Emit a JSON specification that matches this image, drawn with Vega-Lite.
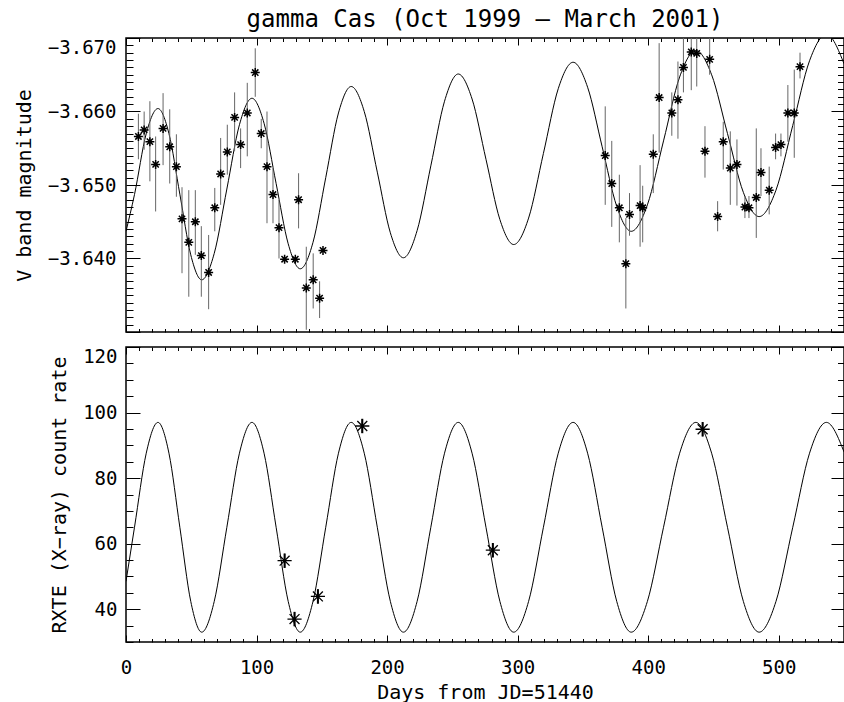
{
  "$schema": "https://vega.github.io/schema/vega-lite/v6.json",
  "padding": {"left": 13, "top": 7, "right": 0, "bottom": 0},
  "background": "white",
  "spacing": 15,
  "bounds": "flush",
  "title": {"text": "gamma Cas (Oct 1999 – March 2001)", "fontSize": 24, "fontWeight": "normal", "font": "DejaVu Sans Mono", "color": "black", "anchor": "middle", "frame": "group", "offset": 5},
  "config": {
    "view": {"stroke": "black", "strokeWidth": 1.5},
    "axis": {"labelFont": "DejaVu Sans Mono", "titleFont": "DejaVu Sans Mono", "labelFontSize": 19, "titleFontSize": 20, "labelColor": "black", "titleColor": "black", "titleFontWeight": "normal", "tickColor": "black", "tickWidth": 1, "grid": false, "domain": false}
  },
  "datasets": {
    "curve": [
      {"day": 0, "rate": 48.5, "mag": -3.6437},
      {"day": 6.5, "rate": 65, "mag": -3.6487},
      {"day": 15.5, "rate": 87.6, "mag": -3.657},
      {"day": 24.5, "rate": 97, "mag": -3.6604},
      {"day": 32.9, "rate": 87.6, "mag": -3.657},
      {"day": 41.25, "rate": 65, "mag": -3.64875},
      {"day": 49.6, "rate": 42.4, "mag": -3.6405},
      {"day": 58, "rate": 33, "mag": -3.6371},
      {"day": 67.6, "rate": 42.4, "mag": -3.6407},
      {"day": 77.25, "rate": 65, "mag": -3.64945},
      {"day": 86.9, "rate": 87.6, "mag": -3.6582},
      {"day": 96.5, "rate": 97, "mag": -3.6618},
      {"day": 105.75, "rate": 87.6, "mag": -3.6584},
      {"day": 115, "rate": 65, "mag": -3.6502},
      {"day": 124.25, "rate": 42.4, "mag": -3.642},
      {"day": 133.5, "rate": 33, "mag": -3.6386},
      {"day": 143.25, "rate": 42.4, "mag": -3.6422},
      {"day": 153, "rate": 65, "mag": -3.651},
      {"day": 162.75, "rate": 87.6, "mag": -3.6598},
      {"day": 172.5, "rate": 97, "mag": -3.6634},
      {"day": 182.5, "rate": 87.6, "mag": -3.66},
      {"day": 192.5, "rate": 65, "mag": -3.65175},
      {"day": 202.5, "rate": 42.4, "mag": -3.6435},
      {"day": 212.5, "rate": 33, "mag": -3.6401},
      {"day": 223, "rate": 42.4, "mag": -3.6438},
      {"day": 233.5, "rate": 65, "mag": -3.6526},
      {"day": 244, "rate": 87.6, "mag": -3.6614},
      {"day": 254.5, "rate": 97, "mag": -3.6651},
      {"day": 265.1, "rate": 87.6, "mag": -3.6617},
      {"day": 275.75, "rate": 65, "mag": -3.6535},
      {"day": 286.4, "rate": 42.4, "mag": -3.6453},
      {"day": 297, "rate": 33, "mag": -3.6419},
      {"day": 308.4, "rate": 42.4, "mag": -3.6455},
      {"day": 319.75, "rate": 65, "mag": -3.6543},
      {"day": 331.1, "rate": 87.6, "mag": -3.6631},
      {"day": 342.5, "rate": 97, "mag": -3.6667},
      {"day": 353.6, "rate": 87.6, "mag": -3.6633},
      {"day": 364.75, "rate": 65, "mag": -3.6552},
      {"day": 375.9, "rate": 42.4, "mag": -3.6471},
      {"day": 387, "rate": 33, "mag": -3.6437},
      {"day": 399.4, "rate": 42.4, "mag": -3.6473},
      {"day": 411.75, "rate": 65, "mag": -3.656},
      {"day": 424.1, "rate": 87.6, "mag": -3.6647},
      {"day": 436.5, "rate": 97, "mag": -3.6683},
      {"day": 448.6, "rate": 87.6, "mag": -3.665},
      {"day": 460.75, "rate": 65, "mag": -3.657},
      {"day": 472.9, "rate": 42.4, "mag": -3.649},
      {"day": 485, "rate": 33, "mag": -3.6457},
      {"day": 497.9, "rate": 42.4, "mag": -3.6493},
      {"day": 510.75, "rate": 65, "mag": -3.6581},
      {"day": 523.6, "rate": 87.6, "mag": -3.6669},
      {"day": 536.5, "rate": 97, "mag": -3.6705},
      {"day": 550, "rate": 88, "mag": -3.6665}
    ],
    "vobs": [
      {"day": 9.5, "mag": -3.6566, "lo": -3.6597, "hi": -3.6535},
      {"day": 13.9, "mag": -3.6575, "lo": -3.66, "hi": -3.6548},
      {"day": 18.3, "mag": -3.6559, "lo": -3.6614, "hi": -3.6505},
      {"day": 22.7, "mag": -3.6528, "lo": -3.6566, "hi": -3.6464},
      {"day": 28.4, "mag": -3.6577, "lo": -3.6625, "hi": -3.6527},
      {"day": 33.5, "mag": -3.6552, "lo": -3.6603, "hi": -3.6502},
      {"day": 38.6, "mag": -3.6525, "lo": -3.6569, "hi": -3.6484},
      {"day": 42.9, "mag": -3.6454, "lo": -3.6497, "hi": -3.638},
      {"day": 48.1, "mag": -3.6422, "lo": -3.6493, "hi": -3.6348},
      {"day": 53.1, "mag": -3.645, "lo": -3.6493, "hi": -3.6405},
      {"day": 57.7, "mag": -3.6404, "lo": -3.6444, "hi": -3.6348},
      {"day": 63.3, "mag": -3.6381, "lo": -3.6432, "hi": -3.6331},
      {"day": 68.0, "mag": -3.6469, "lo": -3.6496, "hi": -3.6437},
      {"day": 72.5, "mag": -3.6515, "lo": -3.6564, "hi": -3.6473},
      {"day": 77.6, "mag": -3.6545, "lo": -3.6582, "hi": -3.6514},
      {"day": 83.2, "mag": -3.6592, "lo": -3.6626, "hi": -3.6546},
      {"day": 87.8, "mag": -3.6555, "lo": -3.6577, "hi": -3.6523},
      {"day": 92.9, "mag": -3.6598, "lo": -3.6639, "hi": -3.6539},
      {"day": 99.0, "mag": -3.6653, "lo": -3.6686, "hi": -3.662},
      {"day": 103.6, "mag": -3.657, "lo": -3.659, "hi": -3.655},
      {"day": 108.0, "mag": -3.6525, "lo": -3.66, "hi": -3.6448},
      {"day": 112.6, "mag": -3.6487, "lo": -3.6523, "hi": -3.6448},
      {"day": 117.2, "mag": -3.6442, "lo": -3.648, "hi": -3.64},
      {"day": 121.5, "mag": -3.6399},
      {"day": 129.7, "mag": -3.6399},
      {"day": 132.2, "mag": -3.648, "lo": -3.6516, "hi": -3.6441},
      {"day": 138.1, "mag": -3.636, "lo": -3.6416, "hi": -3.6303},
      {"day": 143.4, "mag": -3.6371, "lo": -3.6407, "hi": -3.6332},
      {"day": 148.3, "mag": -3.6346, "lo": -3.6369, "hi": -3.6319},
      {"day": 150.9, "mag": -3.6411},
      {"day": 367.1, "mag": -3.654, "lo": -3.6607, "hi": -3.6473},
      {"day": 372.1, "mag": -3.6502, "lo": -3.656, "hi": -3.6443},
      {"day": 377.9, "mag": -3.6469, "lo": -3.6514, "hi": -3.6422},
      {"day": 382.9, "mag": -3.6393, "lo": -3.6455, "hi": -3.6332},
      {"day": 385.7, "mag": -3.646, "lo": -3.6489, "hi": -3.6431},
      {"day": 393.8, "mag": -3.6472, "lo": -3.6527, "hi": -3.6416},
      {"day": 395.8, "mag": -3.6469, "lo": -3.6499, "hi": -3.6422},
      {"day": 403.9, "mag": -3.6542, "lo": -3.6569, "hi": -3.6489},
      {"day": 408.4, "mag": -3.6619, "lo": -3.6693, "hi": -3.6544},
      {"day": 418.1, "mag": -3.6598, "lo": -3.6626, "hi": -3.6567},
      {"day": 422.8, "mag": -3.6616, "lo": -3.6668, "hi": -3.6563},
      {"day": 427.0, "mag": -3.666, "lo": -3.67, "hi": -3.6626},
      {"day": 433.0, "mag": -3.6681, "lo": -3.67, "hi": -3.6629},
      {"day": 437.2, "mag": -3.6679, "lo": -3.67, "hi": -3.6634},
      {"day": 443.5, "mag": -3.6546, "lo": -3.658, "hi": -3.651},
      {"day": 447.1, "mag": -3.6671, "lo": -3.67, "hi": -3.665},
      {"day": 453.2, "mag": -3.6457, "lo": -3.6478, "hi": -3.6437},
      {"day": 457.5, "mag": -3.6559, "lo": -3.6586, "hi": -3.6521},
      {"day": 462.9, "mag": -3.6523, "lo": -3.6573, "hi": -3.6473},
      {"day": 468.0, "mag": -3.6528, "lo": -3.6562, "hi": -3.6472},
      {"day": 474.1, "mag": -3.647, "lo": -3.6485, "hi": -3.6455},
      {"day": 477.2, "mag": -3.6469, "lo": -3.6485, "hi": -3.6455},
      {"day": 482.8, "mag": -3.6483, "lo": -3.6577, "hi": -3.6428},
      {"day": 486.4, "mag": -3.6517, "lo": -3.655, "hi": -3.6485},
      {"day": 492.7, "mag": -3.6493, "lo": -3.6525, "hi": -3.646},
      {"day": 497.6, "mag": -3.6551, "lo": -3.657, "hi": -3.6535},
      {"day": 501.7, "mag": -3.6555, "lo": -3.657, "hi": -3.6539},
      {"day": 507.0, "mag": -3.6598, "lo": -3.6636, "hi": -3.6559},
      {"day": 511.9, "mag": -3.6598, "lo": -3.6657, "hi": -3.6537},
      {"day": 516.3, "mag": -3.6661, "lo": -3.668, "hi": -3.6645}
    ],
    "xobs": [
      {"day": 121.5, "rate": 54.8, "lo": 52.6, "hi": 57.0},
      {"day": 129.1, "rate": 37.0, "lo": 34.8, "hi": 39.2},
      {"day": 147.0, "rate": 43.9, "lo": 41.7, "hi": 46.1},
      {"day": 181.0, "rate": 95.9, "lo": 93.7, "hi": 98.1},
      {"day": 281.0, "rate": 58.0, "lo": 55.8, "hi": 60.2},
      {"day": 441.7, "rate": 94.9, "lo": 92.7, "hi": 97.1}
    ]
  },
  "vconcat": [
    {
      "width": 718,
      "height": 294,
      "resolve": {"axis": {"x": "independent", "y": "independent"}},
      "layer": [
        {
          "data": {"name": "curve"},
          "mark": {"type": "line", "interpolate": "monotone", "color": "black", "strokeWidth": 1, "clip": true},
          "encoding": {
            "x": {"field": "day", "type": "quantitative", "scale": {"domain": [0, 550], "nice": false, "zero": false}, "axis": null},
            "y": {"field": "mag", "type": "quantitative", "scale": {"domain": [-3.67, -3.63], "reverse": true, "nice": false, "zero": false},
                  "axis": {"orient": "left", "values": [-3.67, -3.66, -3.65, -3.64], "format": ".3f", "ticks": false, "labelFlush": true, "labelPadding": 10, "title": "V band magnitude", "titlePadding": 13}}
          }
        },
        {
          "data": {"name": "vobs"},
          "mark": {"type": "rule", "color": "#666666", "strokeWidth": 1, "clip": true},
          "encoding": {
            "x": {"field": "day", "type": "quantitative", "axis": {"orient": "bottom", "labels": false, "title": null, "tickCount": 55, "tickSize": {"condition": {"test": "datum.value % 100 === 0", "value": -7}, "value": -3.5}}},
            "y": {"field": "lo", "type": "quantitative", "axis": {"orient": "left", "labels": false, "title": null, "tickCount": 40, "tickSize": {"condition": {"test": "abs(datum.value*100 - round(datum.value*100)) < 0.000001", "value": -14}, "value": -7}}},
            "y2": {"field": "hi"}
          }
        },
        {
          "data": {"name": "vobs"},
          "mark": {"type": "point", "shape": "M-1,0H1M0,-1V1M-0.7,-0.7L0.7,0.7M-0.7,0.7L0.7,-0.7", "filled": false, "color": "black", "strokeWidth": 1.5, "size": 81, "opacity": 1},
          "encoding": {
            "x": {"field": "day", "type": "quantitative", "axis": {"orient": "top", "labels": false, "title": null, "tickCount": 55, "tickSize": {"condition": {"test": "datum.value % 100 === 0", "value": -7}, "value": -3.5}}},
            "y": {"field": "mag", "type": "quantitative", "axis": {"orient": "right", "labels": false, "title": null, "tickCount": 40, "tickSize": {"condition": {"test": "abs(datum.value*100 - round(datum.value*100)) < 0.000001", "value": -13}, "value": -6.5}}}
          }
        }
      ]
    },
    {
      "width": 718,
      "height": 295,
      "resolve": {"axis": {"x": "independent", "y": "independent"}},
      "layer": [
        {
          "data": {"name": "curve"},
          "mark": {"type": "line", "interpolate": "monotone", "color": "black", "strokeWidth": 1, "clip": true},
          "encoding": {
            "x": {"field": "day", "type": "quantitative", "scale": {"domain": [0, 550], "nice": false, "zero": false},
                  "axis": {"orient": "bottom", "values": [0, 100, 200, 300, 400, 500], "ticks": false, "labelFlush": false, "labelPadding": 16, "title": "Days from JD=51440", "titlePadding": 5}},
            "y": {"field": "rate", "type": "quantitative", "scale": {"domain": [30, 120], "nice": false, "zero": false},
                  "axis": {"orient": "left", "values": [40, 60, 80, 100, 120], "ticks": false, "labelFlush": true, "labelPadding": 9, "title": "RXTE (X−ray) count rate", "titlePadding": 13}}
          }
        },
        {
          "data": {"name": "xobs"},
          "mark": {"type": "rule", "color": "black", "strokeWidth": 2},
          "encoding": {
            "x": {"field": "day", "type": "quantitative", "axis": {"orient": "bottom", "labels": false, "title": null, "tickCount": 55, "tickSize": {"condition": {"test": "datum.value % 100 === 0", "value": -7}, "value": -3.5}}},
            "y": {"field": "lo", "type": "quantitative", "axis": {"orient": "left", "labels": false, "title": null, "tickCount": 18, "tickSize": {"condition": {"test": "datum.value % 20 === 0", "value": -14}, "value": -7}}},
            "y2": {"field": "hi"}
          }
        },
        {
          "data": {"name": "xobs"},
          "mark": {"type": "point", "shape": "M-1,0H1M0,-1V1M-0.7,-0.7L0.7,0.7M-0.7,0.7L0.7,-0.7", "filled": false, "color": "black", "strokeWidth": 1.3, "size": 200, "opacity": 1},
          "encoding": {
            "x": {"field": "day", "type": "quantitative", "axis": {"orient": "top", "labels": false, "title": null, "tickCount": 55, "tickSize": {"condition": {"test": "datum.value % 100 === 0", "value": -7}, "value": -3.5}}},
            "y": {"field": "rate", "type": "quantitative", "axis": {"orient": "right", "labels": false, "title": null, "tickCount": 18, "tickSize": {"condition": {"test": "datum.value % 20 === 0", "value": -13}, "value": -6.5}}}
          }
        }
      ]
    }
  ]
}
